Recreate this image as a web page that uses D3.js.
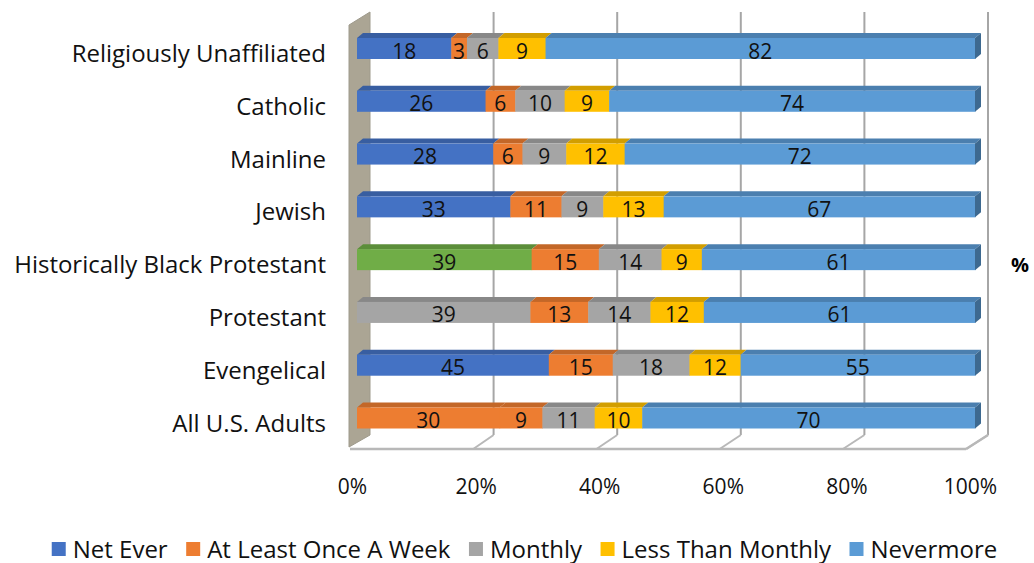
<!DOCTYPE html>
<html>
<head>
<meta charset="utf-8">
<script src="https://cdn.jsdelivr.net/npm/d3@7"></script>
<style>
  body { margin: 0; background: #fff; }
  svg { display: block; font-family: "Open Sans", sans-serif; }
</style>
</head>
<body>
<script>
var categories = ["Religiously Unaffiliated", "Catholic", "Mainline", "Jewish",
  "Historically Black Protestant", "Protestant", "Evengelical", "All U.S. Adults"];
var seriesNames = ["Net Ever", "At Least Once A Week", "Monthly", "Less Than Monthly", "Nevermore"];
var netEver = [18, 26, 28, 33, 39, 39, 45, 30];
var weekly = [3, 6, 6, 11, 15, 13, 15, 9];
var monthly = [6, 10, 9, 9, 14, 14, 18, 11];
var lessMonthly = [9, 9, 12, 13, 9, 12, 12, 10];
var nevermore = [82, 74, 72, 67, 61, 61, 55, 70];
var tickValues = [0, 0.2, 0.4, 0.6, 0.8, 1];

var seriesColors = ["#4472C4", "#ED7D31", "#A5A5A5", "#FFC000", "#5B9BD5"];
// per-point colour overrides on the first series
var firstSeriesOverride = { 4: "#70AD47", 5: "#A5A5A5", 7: "#ED7D31" };

var W = 1034, H = 563;
var svg = d3.select("body").append("svg").attr("width", W).attr("height", H);

var allSeries = [netEver, weekly, monthly, lessMonthly, nevermore];
var rows = categories.map(function(c, i) {
  var total = d3.sum(allSeries, function(s) { return s[i]; });
  var acc = 0;
  var segs = allSeries.map(function(s, k) {
    var seg = { k: k, v: s[i], x0: acc / total, x1: (acc + s[i]) / total };
    acc += s[i];
    return seg;
  });
  return { name: c, i: i, segs: segs };
});

var x = d3.scaleLinear().domain([0, 1]).range([0, 618]);
var y = d3.scalePoint().domain(categories).range([48.5, 418]);
var barLeft = 357, barH = 21, dx = 6, dy = -5;
var backLeft = 370, backTop = 12, backBottom = 435;
var frontLeft = 350, frontBottom = 449;

// walls and floor
var grid = svg.append("g");
grid.append("polygon")
  .attr("points", [[349, 25], [backLeft, backTop], [backLeft, backBottom], [349, frontBottom - 2]].join(" "))
  .attr("fill", "#aba594")
  .attr("stroke", "#9e9a8c")
  .attr("stroke-width", 1);

tickValues.slice(1).forEach(function(t) {
  grid.append("line")
    .attr("x1", backLeft + x(t)).attr("x2", backLeft + x(t))
    .attr("y1", backTop).attr("y2", backBottom)
    .attr("stroke", "#a6a6a6").attr("stroke-width", 2);
  grid.append("line")
    .attr("x1", backLeft + x(t)).attr("y1", backBottom)
    .attr("x2", frontLeft + x(t) * 0.997).attr("y2", frontBottom)
    .attr("stroke", "#b8b8b8").attr("stroke-width", 2);
});
grid.append("line")
  .attr("x1", frontLeft).attr("x2", frontLeft + x(1) * 0.997)
  .attr("y1", frontBottom).attr("y2", frontBottom)
  .attr("stroke", "#b8b8b8").attr("stroke-width", 2.5);

// bars
function segColor(row, seg) {
  if (seg.k === 0 && firstSeriesOverride[row.i]) return firstSeriesOverride[row.i];
  return seriesColors[seg.k];
}

var bars = svg.append("g").selectAll("g").data(rows).join("g")
  .attr("transform", function(d) { return "translate(" + barLeft + "," + (y(d.name) - barH / 2) + ")"; });

bars.each(function(row) {
  var g = d3.select(this);
  row.segs.forEach(function(s) {
    var c = segColor(row, s);
    var xa = x(s.x0), xb = x(s.x1);
    g.append("polygon")
      .attr("points", [[xa, 0], [xa + dx, dy], [xb + dx, dy], [xb, 0]].join(" "))
      .attr("fill", d3.color(c).darker(0.55));
    g.append("rect")
      .attr("x", xa).attr("y", 0)
      .attr("width", xb - xa + 0.5).attr("height", barH)
      .attr("fill", c);
  });
  var last = row.segs[row.segs.length - 1];
  var xe = x(last.x1);
  g.append("polygon")
    .attr("points", [[xe, 0], [xe + dx, dy], [xe + dx, barH + dy], [xe, barH]].join(" "))
    .attr("fill", d3.color(segColor(row, last)).darker(1.1));
  row.segs.forEach(function(s) {
    g.append("text")
      .attr("x", x((s.x0 + s.x1) / 2))
      .attr("y", barH / 2 + 10)
      .attr("text-anchor", "middle")
      .attr("font-size", 21)
      .attr("fill", "#111")
      .text(s.v);
  });
});

// right edge of the box
grid.append("path")
  .attr("d", "M" + (backLeft + x(1)) + "," + backBottom + " L" + (frontLeft + x(1) * 0.997) + "," + frontBottom)
  .attr("stroke", "#b8b8b8").attr("stroke-width", 2.5).attr("fill", "none");

// category labels
svg.append("g").selectAll("text").data(categories).join("text")
  .attr("x", 326)
  .attr("y", function(d) { return y(d) + 13.5; })
  .attr("text-anchor", "end")
  .attr("font-size", 24)
  .attr("fill", "#111")
  .text(function(d) { return d; });

// x axis
var axis = d3.axisBottom(d3.scaleLinear().domain([0, 1]).range([0, 618]))
  .tickValues(tickValues)
  .tickFormat(d3.format(".0%"))
  .tickSize(0);
var ax = svg.append("g").attr("transform", "translate(352,476)").call(axis);
ax.select(".domain").remove();
ax.selectAll("text").attr("font-size", 21).attr("fill", "#111").attr("font-family", "Open Sans, sans-serif");

// % label
svg.append("text")
  .attr("x", 1020).attr("y", 272)
  .attr("text-anchor", "middle")
  .attr("font-size", 20).attr("font-weight", "bold")
  .text("%");

// legend
var legend = svg.append("g");
var items = legend.selectAll("g").data(seriesNames).join("g");
items.append("rect").attr("width", 14).attr("height", 14).attr("y", -7)
  .attr("fill", function(d, k) { return seriesColors[k]; });
items.append("text").attr("x", 21).attr("y", 8.5)
  .attr("font-size", 24).attr("fill", "#111")
  .text(function(d) { return d; });
var gap = 18.5, pos = 0, offsets = [];
items.each(function() {
  offsets.push(pos);
  pos += 21 + this.querySelector("text").getComputedTextLength() + gap;
});
var legendW = pos - gap;
var lx = 524.5 - legendW / 2;
items.attr("transform", function(d, k) { return "translate(" + (lx + offsets[k]) + ",549)"; });
</script>
</body>
</html>
